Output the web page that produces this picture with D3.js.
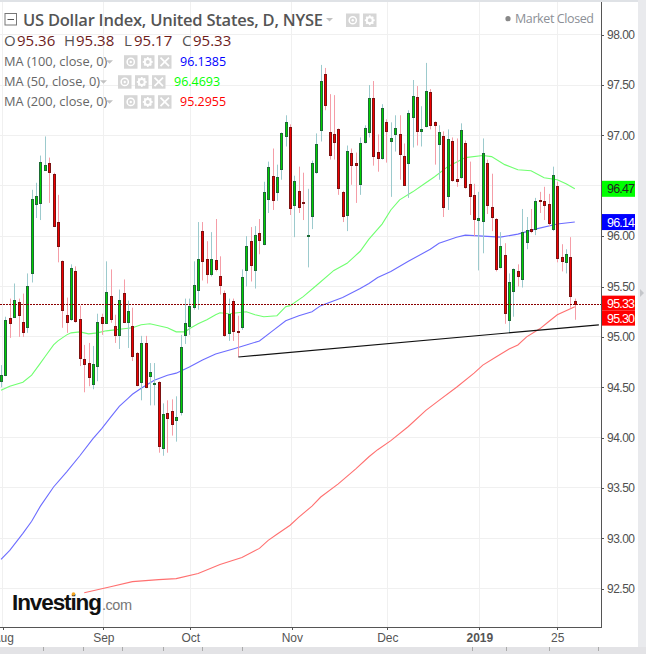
<!DOCTYPE html>
<html>
<head>
<meta charset="utf-8">
<script src="https://cdnjs.cloudflare.com/ajax/libs/d3/7.8.5/d3.min.js"></script>
<style>
  body { margin: 0; background: #fff; }
  svg { display: block; }
  text { font-family: "Liberation Sans", Arial, sans-serif; }
  .legend text { font-family: "Open Sans", "Noto Sans", sans-serif; }
</style>
</head>
<body>
<div id="chart"></div>
<script>
// daily candles, oldest first
var opens = [
  94.56,94.62,95.19,95.20,95.35,95.15,95.10,95.64,96.32,96.33,
  96.66,96.73,96.62,96.14,95.75,95.22,95.17,95.65,95.18,94.78,
  94.74,94.53,94.71,95.20,95.14,95.41,95.11,95.02,95.44,95.15,
  95.11,94.84,94.55,94.94,94.61,94.54,94.55,93.89,94.24,94.26,
  94.17,94.25,95.02,95.11,95.30,95.46,96.05,95.77,95.62,95.76,
  95.60,95.44,95.04,95.36,95.06,95.09,95.66,95.95,95.66,96.03,
  95.92,96.37,96.60,96.44,96.66,96.99,97.08,96.31,96.45,96.34,
  96.00,96.20,96.63,97.05,97.61,97.03,97.01,97.06,96.44,96.21,
  96.83,96.73,96.51,96.93,97.03,97.37,96.84,96.77,97.13,96.94,
  97.01,97.01,96.80,96.72,97.18,97.38,97.04,97.09,97.43,97.13,
  96.91,96.99,96.39,96.94,96.57,96.58,96.92,96.52,96.41,96.16,
  96.15,96.73,96.29,96.17,95.69,95.81,95.16,95.45,95.65,95.57,
  95.94,96.07,96.07,96.36,96.35,96.32,96.07,96.50,95.79,95.74,
  95.79,95.36
];
var highs = [
  94.72,95.20,95.38,95.53,95.38,95.43,95.63,96.46,96.53,96.80,
  96.99,96.78,96.63,96.41,95.76,95.39,95.72,95.70,95.31,94.92,
  94.94,94.91,95.23,95.23,95.75,95.67,95.22,95.47,95.57,95.36,
  95.29,94.85,95.01,95.01,94.74,94.74,94.56,94.34,94.37,94.38,
  94.41,95.02,95.38,95.38,95.75,96.14,96.14,95.95,96.04,96.17,
  95.80,95.46,95.38,95.38,95.21,95.67,96.00,96.09,96.10,96.17,
  96.54,96.74,96.87,96.71,97.03,97.20,97.11,96.60,96.69,96.63,
  96.47,96.75,97.02,97.70,97.67,97.41,97.40,97.07,96.45,96.90,
  96.87,96.83,96.98,97.10,97.50,97.54,97.01,97.31,97.16,97.13,
  97.20,97.20,96.92,97.25,97.55,97.49,97.29,97.72,97.46,97.14,
  97.10,97.04,97.06,96.98,96.97,97.12,96.95,96.74,96.52,96.44,
  96.97,96.76,96.62,96.18,96.04,95.93,95.63,95.68,95.72,96.27,
  96.19,96.27,96.38,96.44,96.49,96.42,96.69,96.54,95.92,95.87,
  95.99,95.38
];
var lows = [
  94.50,94.61,94.99,95.19,95.00,95.00,95.04,95.54,96.18,96.16,
  96.65,96.33,96.09,95.74,95.09,95.04,95.16,95.14,94.71,94.45,
  94.51,94.48,94.56,95.02,95.13,95.14,94.94,94.88,95.14,94.89,
  94.76,94.51,94.37,94.49,94.32,94.32,93.85,93.82,93.85,94.02,
  93.96,94.22,94.93,95.02,95.27,95.27,95.56,95.53,95.60,95.65,
  95.42,95.00,94.96,94.96,94.80,95.07,95.50,95.55,95.48,95.82,
  95.91,96.23,96.26,96.35,96.56,96.89,96.21,95.99,96.23,96.16,
  95.69,96.07,96.62,96.94,97.25,96.76,96.76,96.41,96.14,96.05,
  96.51,96.33,96.41,96.92,96.98,96.70,96.64,96.76,96.73,96.39,
  96.84,96.56,96.50,96.38,96.88,96.90,96.89,97.08,97.06,96.71,
  96.56,96.19,96.26,96.54,96.49,96.57,96.47,96.21,96.00,95.66,
  95.83,96.22,96.05,95.65,95.68,95.13,95.04,95.20,95.50,95.49,
  95.87,96.03,96.01,96.23,96.16,96.10,96.05,95.74,95.65,95.63,
  95.29,95.17
];
var closes = [
  94.62,95.17,95.14,95.37,95.22,95.05,95.51,96.37,96.40,96.74,
  96.71,96.64,96.10,95.90,95.26,95.15,95.68,95.15,94.79,94.73,
  94.60,94.73,95.15,95.14,95.45,95.18,95.02,95.37,95.15,95.26,
  94.81,94.52,94.94,94.50,94.65,94.54,93.91,94.23,94.19,94.13,
  94.20,94.90,95.14,95.31,95.52,95.77,95.75,95.62,95.77,95.67,
  95.51,95.02,95.23,95.06,95.05,95.59,95.90,95.71,96.01,95.96,
  96.44,96.69,96.36,96.59,97.02,97.13,96.28,96.55,96.29,96.33,
  96.01,96.73,96.91,97.54,97.30,96.80,96.93,96.47,96.20,96.85,
  96.71,96.71,96.92,97.07,97.37,96.79,96.78,97.27,97.04,96.97,
  97.07,96.81,96.51,97.22,97.39,97.04,97.06,97.44,97.10,97.10,
  97.03,96.29,96.96,96.55,96.55,97.05,96.48,96.40,96.17,96.18,
  96.83,96.31,96.19,95.67,95.90,95.23,95.54,95.67,95.60,96.04,
  96.06,96.05,96.35,96.35,96.31,96.13,96.61,95.79,95.75,95.82,
  95.40,95.33
];

// moving averages at these bars
var ma50Bars = [0,2,5,7,9,10,12,13,15,16,18,20,22,24,26,28,30,32,34,36,38,40,42,43,45,47,49,50,52,56,58,60,63,65,66,69,72,76,79,82,84,87,89,91,94,97,99,102,106,110,112,115,118,121,124,127,129,131];
var ma50Values = [94.47,94.51,94.55,94.62,94.74,94.80,94.92,94.96,95.02,95.04,95.05,95.03,95.04,95.06,95.07,95.08,95.09,95.12,95.13,95.11,95.09,95.05,95.05,95.08,95.13,95.17,95.22,95.24,95.23,95.25,95.22,95.20,95.21,95.30,95.31,95.40,95.51,95.66,95.73,95.85,95.97,96.12,96.26,96.36,96.44,96.53,96.59,96.69,96.78,96.80,96.79,96.71,96.66,96.65,96.58,96.56,96.52,96.47];
var ma100Bars = [0,2,5,7,9,12,15,18,21,23,25,27,29,30,32,35,38,40,43,46,49,53,56,59,62,65,68,71,73,78,82,84,86,89,93,98,100,104,106,110,114,118,122,127,131];
var ma100Values = [92.79,92.88,93.05,93.17,93.32,93.51,93.66,93.82,93.99,94.09,94.20,94.31,94.39,94.43,94.49,94.57,94.62,94.64,94.70,94.77,94.83,94.88,94.92,94.96,95.06,95.16,95.21,95.25,95.31,95.39,95.48,95.53,95.59,95.65,95.75,95.87,95.93,95.99,96.01,96.00,95.99,96.02,96.07,96.12,96.14];
var ma200Bars = [19,25,30,36,40,45,50,55,59,61,63,66,68,71,73,77,81,84,86,89,93,97,100,104,108,110,113,116,118,120,123,125,127,131];
var ma200Values = [92.46,92.52,92.57,92.59,92.60,92.65,92.74,92.81,92.90,92.98,93.04,93.13,93.21,93.32,93.41,93.54,93.69,93.81,93.88,93.97,94.11,94.27,94.37,94.50,94.64,94.72,94.80,94.88,94.92,95.00,95.08,95.15,95.22,95.30];

// hand drawn support line
var trendBars = [54.2, 136.5];
var trendValues = [94.80, 95.12];

var priceTicks = [92.5,93,93.5,94,94.5,95,95.5,96,96.5,97,97.5,98];
var timeBars = [0.37,23.36,43.2,66.4,88.2,109.2,127];
var timeLabels = ["Aug","Sep","Oct","Nov","Dec","2019","25"];

var title = "US Dollar Index, United States, D, NYSE";
var ohlcLabels = ["O","H","L","C"];
var ohlcValues = ["95.36","95.38","95.17","95.33"];
var maNames = ["MA (100, close, 0)","MA (50, close, 0)","MA (200, close, 0)"];
var maLatest = ["96.1385","96.4693","95.2955"];

var width = 646;
var height = 654;
var plotRight = 601;
var plotBottom = 627;

var x = d3.scaleLinear().domain([0, 131]).range([1, 574.8]);
var y = d3.scaleLinear().domain([92.5, 98]).range([588.7, 34.7]);

var svg = d3.select("#chart").append("svg")
  .attr("width", width)
  .attr("height", height);

// frame strips
svg.append("rect").attr("x", 0).attr("y", 0).attr("width", width).attr("height", 2).attr("fill", "#dfe2e6");
svg.append("rect").attr("x", 638).attr("y", 0).attr("width", 8).attr("height", height).attr("fill", "#e9eaed");
svg.append("rect").attr("x", 0).attr("y", 647).attr("width", width).attr("height", 7).attr("fill", "#e3e3e6");
svg.append("path").attr("d", "M640 289l4 4-4 4z").attr("fill", "#c4c6ca");

// grid
svg.append("g").selectAll("line").data(priceTicks).enter().append("line")
  .attr("x1", 0).attr("x2", plotRight)
  .attr("y1", function(d) { return y(d); })
  .attr("y2", function(d) { return y(d); })
  .attr("stroke", "#f0f0f0")
  .attr("shape-rendering", "crispEdges");

svg.append("g").selectAll("line").data(timeBars).enter().append("line")
  .attr("x1", function(d) { return x(d); })
  .attr("x2", function(d) { return x(d); })
  .attr("y1", 2).attr("y2", plotBottom)
  .attr("stroke", "#f0f0f0")
  .attr("shape-rendering", "crispEdges");

// moving averages
function draw_ma(bars, values, color)
{
  var line = d3.line()
    .x(function(d) { return x(d); })
    .y(function(d, i) { return y(values[i]); });

  svg.append("path")
    .attr("d", line(bars))
    .attr("fill", "none")
    .attr("stroke", color)
    .attr("stroke-width", 1.1);
}

draw_ma(ma50Bars, ma50Values, "#70ff70");
draw_ma(ma100Bars, ma100Values, "#6c6cff");
draw_ma(ma200Bars, ma200Values, "#ff7070");

// candles
var candles = d3.range(opens.length);

function is_up(i)
{
  return closes[i] >= opens[i];
}

function bar_x(i)
{
  return Math.round(x(i));
}

svg.append("g").selectAll("line").data(candles).enter().append("line")
  .attr("x1", function(i) { return bar_x(i) + 0.5; })
  .attr("x2", function(i) { return bar_x(i) + 0.5; })
  .attr("y1", function(i) { return y(highs[i]); })
  .attr("y2", function(i) { return y(lows[i]); })
  .attr("stroke", function(i) { return is_up(i) ? "#9ccacd" : "#f59da7"; });

svg.append("g").selectAll("rect").data(candles).enter().append("rect")
  .attr("x", function(i) { return bar_x(i) - 0.5; })
  .attr("width", 2)
  .attr("y", function(i) { return Math.round(y(Math.max(opens[i], closes[i]))) + 0.5; })
  .attr("height", function(i) {
    return Math.max(1, Math.round(Math.abs(y(opens[i]) - y(closes[i]))));
  })
  .attr("fill", function(i) { return is_up(i) ? "#00d000" : "#f00000"; })
  .attr("stroke", function(i) { return is_up(i) ? "#1d6a35" : "#7c1212"; })
  .attr("stroke-width", 1);

// support line
svg.append("line")
  .attr("x1", x(trendBars[0])).attr("x2", x(trendBars[1]))
  .attr("y1", y(trendValues[0])).attr("y2", y(trendValues[1]))
  .attr("stroke", "#111")
  .attr("stroke-width", 1.2);

// last price line
var lastClose = closes[closes.length - 1];
svg.append("line")
  .attr("x1", 0).attr("x2", plotRight)
  .attr("y1", Math.round(y(lastClose)) + 0.5)
  .attr("y2", Math.round(y(lastClose)) + 0.5)
  .attr("stroke", "#8c0000")
  .attr("stroke-dasharray", "2,1");

// axes
var yAxis = d3.axisRight(y)
  .tickValues(priceTicks)
  .tickFormat(d3.format(".2f"))
  .tickSize(3)
  .tickPadding(3);

var yGroup = svg.append("g")
  .attr("transform", "translate(" + plotRight + ",0)")
  .call(yAxis);

var xAxis = d3.axisBottom(x)
  .tickValues(timeBars)
  .tickFormat(function(d, i) { return timeLabels[i]; })
  .tickSize(3)
  .tickPadding(3);

var xGroup = svg.append("g")
  .attr("transform", "translate(0," + plotBottom + ")")
  .call(xAxis);

yGroup.select(".domain").attr("d", "M0.5,2V" + (plotBottom + 0.5)).attr("stroke", "#555");
xGroup.select(".domain").attr("d", "M0,0.5H" + (plotRight + 1)).attr("stroke", "#555");
yGroup.selectAll(".tick line").attr("stroke", "#555").attr("shape-rendering", "crispEdges");
xGroup.selectAll(".tick line").attr("stroke", "#555").attr("shape-rendering", "crispEdges");
yGroup.selectAll("text").attr("font-size", 12).attr("fill", "#4f4f4f")
  .attr("font-family", "Liberation Sans").attr("textLength", 28);
xGroup.selectAll("text").attr("font-size", 12).attr("fill", "#555")
  .attr("font-family", "Liberation Sans");
xGroup.selectAll(".tick").filter(function(d, i) { return timeLabels[i] === "2019"; })
  .select("text").attr("font-weight", "bold");

// the 96.47 flag sits on top of this label in the reference
yGroup.selectAll(".tick").filter(function(d) { return d === 96.5; })
  .select("text").remove();

// price flags on the axis
function price_flag(value, label, top, h, color, textColor)
{
  svg.append("rect")
    .attr("x", plotRight + 1).attr("y", top)
    .attr("width", 33).attr("height", h)
    .attr("fill", color);
  svg.append("text")
    .attr("x", plotRight + 6)
    .attr("y", top + h / 2 + 4.5)
    .attr("font-size", 12.5)
    .attr("textLength", 28)
    .attr("fill", textColor)
    .text(label);
}

price_flag(96.47, d3.format(".2f")(ma50Values[ma50Values.length - 1]), y(96.47) - 8, 16, "#00ff00", "#222");
price_flag(96.14, d3.format(".2f")(ma100Values[ma100Values.length - 1]), y(96.14) - 8, 16, "#0000ff", "#fff");
price_flag(95.33, d3.format(".2f")(lastClose), y(95.33) - 8, 15, "#ff0000", "#fff");
price_flag(95.30, d3.format(".2f")(ma200Values[ma200Values.length - 1]), y(95.33) + 7, 15, "#ff0000", "#fff");

// legend
var legend = svg.append("g").attr("class", "legend");

function eye_icon(px, py)
{
  var g = legend.append("g").attr("transform", "translate(" + px + "," + py + ")");
  g.append("rect").attr("width", 13.5).attr("height", 13.5).attr("fill", "#d6d6d6");
  g.append("circle").attr("cx", 6.75).attr("cy", 6.75).attr("r", 3.6).attr("fill", "none").attr("stroke", "#fff").attr("stroke-width", 1.5);
  g.append("circle").attr("cx", 6.75).attr("cy", 6.75).attr("r", 1.2).attr("fill", "#fff");
}

function gear_icon(px, py)
{
  var g = legend.append("g").attr("transform", "translate(" + px + "," + py + ")");
  g.append("rect").attr("width", 13.5).attr("height", 13.5).attr("fill", "#d6d6d6");
  g.append("circle").attr("cx", 6.75).attr("cy", 6.75).attr("r", 3).attr("fill", "none").attr("stroke", "#fff").attr("stroke-width", 2);
  d3.range(8).forEach(function(k) {
    g.append("rect")
      .attr("x", 5.9).attr("y", 1.8).attr("width", 1.7).attr("height", 2)
      .attr("fill", "#fff")
      .attr("transform", "rotate(" + (k * 45) + " 6.75 6.75)");
  });
}

function close_icon(px, py)
{
  var g = legend.append("g").attr("transform", "translate(" + px + "," + py + ")");
  g.append("rect").attr("width", 13.5).attr("height", 13.5).attr("fill", "#d6d6d6");
  g.append("path").attr("d", "M2.5 2.5L11 11M11 2.5L2.5 11").attr("stroke", "#fff").attr("stroke-width", 1.7);
}

function caret(px, py)
{
  legend.append("path")
    .attr("d", "M" + px + " " + py + "h7l-3.5 3.5z")
    .attr("fill", "#c2c2c2");
}

legend.append("rect")
  .attr("x", 5).attr("y", 13.5).attr("width", 11.5).attr("height", 11.5)
  .attr("fill", "#fff").attr("stroke", "#777");
legend.append("line")
  .attr("x1", 7.5).attr("x2", 14).attr("y1", 19.5).attr("y2", 19.5)
  .attr("stroke", "#555");

legend.append("text")
  .attr("x", 23).attr("y", 26)
  .attr("font-size", 16.5)
  .attr("font-weight", 600)
  .attr("fill", "#555")
  .attr("textLength", 300)
  .text(title);

caret(326, 18);
eye_icon(346, 13.5);
gear_icon(363, 13.5);

legend.append("circle").attr("cx", 508).attr("cy", 18.7).attr("r", 2.6).attr("fill", "#888");
legend.append("text")
  .attr("x", 515).attr("y", 23)
  .attr("font-size", 12.5)
  .attr("fill", "#8c8f96")
  .attr("textLength", 79)
  .text("Market Closed");

var ohlcX = [4, 64, 124, 182];
var ohlcNumX = [17, 76, 134, 193];
ohlcLabels.forEach(function(label, i) {
  legend.append("text")
    .attr("x", ohlcX[i]).attr("y", 46)
    .attr("font-size", 15).attr("fill", "#555")
    .text(label);
  legend.append("text")
    .attr("x", ohlcNumX[i]).attr("y", 46)
    .attr("font-size", 15).attr("fill", "#6e1c1c")
    .text(ohlcValues[i]);
});

var maRowY = [61.7, 81.7, 101.7];
var maColors = ["#0000ff", "#00ff00", "#ff0000"];
var maShift = [0, -6, 0];

maNames.forEach(function(name, i) {
  var s = maShift[i];
  legend.append("text")
    .attr("x", 4).attr("y", maRowY[i] + 4)
    .attr("font-size", 12.8).attr("fill", "#666")
    .text(name);
  caret(106 + s, maRowY[i] - 1.5);
  eye_icon(124 + s, maRowY[i] - 6.5);
  gear_icon(141 + s, maRowY[i] - 6.5);
  close_icon(158 + s, maRowY[i] - 6.5);
  legend.append("text")
    .attr("x", 180 + s).attr("y", maRowY[i] + 4)
    .attr("font-size", 12.5).attr("fill", maColors[i])
    .text(maLatest[i]);
});

// logo
var logo = svg.append("g");
logo.append("text")
  .attr("x", 12).attr("y", 610)
  .attr("font-size", 22.5).attr("font-weight", "bold")
  .attr("fill", "#111")
  .attr("textLength", 90)
  .text("Investing");
logo.append("text")
  .attr("x", 102).attr("y", 610)
  .attr("font-size", 14.5)
  .attr("fill", "#777")
  .attr("textLength", 30)
  .text(".com");
logo.append("circle").attr("cx", 73.5).attr("cy", 594).attr("r", 1.8).attr("fill", "#f5a623");

// pane tabs strip under the chart
var stripTicks = [43, 83, 122, 163, 202, 242, 472, 506, 549, 598];
svg.append("g").selectAll("line").data(stripTicks).enter().append("line")
  .attr("x1", function(d) { return d + 0.5; })
  .attr("x2", function(d) { return d + 0.5; })
  .attr("y1", 647).attr("y2", 651)
  .attr("stroke", "#aaa");
</script>
</body>
</html>
